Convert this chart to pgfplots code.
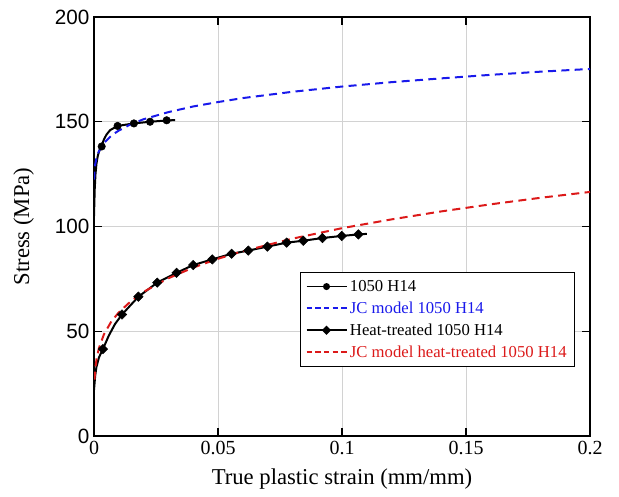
\documentclass[border=0pt]{standalone}
\usepackage{pgfplots}
\pgfplotsset{compat=1.18}
\usepackage{fontspec}
\setmainfont{Liberation Serif}
\newfontfamily\arialfont{Liberation Sans}
\definecolor{jcblue}{RGB}{25,25,235}
\definecolor{jcred}{RGB}{220,25,25}
\definecolor{gridgray}{RGB}{210,210,210}
\begin{document}
\begin{tikzpicture}
\begin{axis}[
  name=ax,
  scale only axis,
  width=372pt, height=314.25pt,
  xmin=0, xmax=0.2, ymin=0, ymax=200,
  xtick={0,0.05,0.1,0.15,0.2},
  xticklabels={0,0.05,0.1,0.15,0.2},
  ytick={0,50,100,150,200},
  /pgf/number format/assume math mode=true,
  yticklabel style={font=\arialfont\fontsize{15.5}{18}\selectfont},
  xticklabel style={font=\fontsize{15}{18}\selectfont},
  major tick length=6pt,
  tick style={black, line width=0.8pt},
  axis line style={black, line width=1.1pt},
  grid=major,
  major grid style={gridgray, line width=0.6pt},
  xlabel={True plastic strain (mm/mm)},
  ylabel={Stress (MPa)},
  label style={font=\fontsize{17}{20}\selectfont},
  xlabel style={at={(axis description cs:0.5,-0.103)}, anchor=center},
  ylabel style={at={(axis description cs:-0.142,0.5)}, anchor=center},
  legend cell align=left,
  legend style={at={(axis description cs:0.97,0.165)}, anchor=south east,
    draw=black, line width=0.8pt, fill=white,
    font=\fontsize{12.5}{14.5}\selectfont, row sep=2.3pt,
    inner xsep=4pt, inner ysep=3.5pt},
  legend image code/.code={\draw[mark repeat=2,mark phase=2,#1] plot coordinates {(0pt,0pt) (15pt,0pt) (30pt,0pt)};},
]
% 1050 H14 experimental line
\addplot[black, line width=1.5pt, forget plot] coordinates {
 (0,105) (0.0003,118) (0.0006,125) (0.001,130) (0.0015,133.5) (0.002,135.7) (0.003,138.4)
 (0.004,141.5) (0.005,143.8) (0.0065,146.0) (0.0095,148.0) (0.0161,149.2) (0.0226,150.0)
 (0.0293,150.6) (0.0327,150.8)};
\addplot[black, only marks, mark=*, mark size=2.8pt, forget plot] coordinates {
 (0.0031,138.2) (0.0095,148.0) (0.0161,149.2) (0.0226,150.0) (0.0293,150.7)};
% JC model 1050 H14
\addplot[jcblue, line width=1.5pt, dash pattern=on 6pt off 4pt, forget plot] coordinates {
 (0.00005,122.4) (0.0002,126.4) (0.0005,129.7) (0.001,132.6) (0.002,136.0) (0.004,139.8)
 (0.007,143.4) (0.01,145.8) (0.015,148.9) (0.02,151.2) (0.03,154.6) (0.04,157.3)
 (0.05,159.4) (0.06,161.3) (0.08,164.3) (0.1,166.8) (0.12,168.9) (0.14,170.7)
 (0.16,172.4) (0.18,173.9) (0.2,175.2)};
% Heat-treated experimental line
\addplot[black, line width=1.5pt, forget plot] coordinates {
 (0,22) (0.0005,29) (0.001,33) (0.002,37.5) (0.0036,41.5) (0.006,48) (0.0085,53.5)
 (0.0113,58.0) (0.0179,66.5) (0.0255,73.2) (0.0333,77.9) (0.0400,81.6) (0.0477,84.3)
 (0.0555,87.0) (0.0622,88.5) (0.0699,90.4) (0.0777,92.3) (0.0844,93.2) (0.0921,94.5)
 (0.0999,95.5) (0.1066,96.2) (0.110,96.5)};
\addplot[black, only marks, mark=square*, mark size=2.5pt, mark options={rotate=45}, forget plot] coordinates {
 (0.0036,41.5) (0.0113,58.0) (0.0179,66.5) (0.0255,73.2) (0.0333,77.9) (0.0400,81.6)
 (0.0477,84.3) (0.0555,87.0) (0.0622,88.5) (0.0699,90.4) (0.0777,92.3) (0.0844,93.2)
 (0.0921,94.5) (0.0999,95.5) (0.1066,96.2)};
% JC model heat-treated
\addplot[jcred, line width=1.5pt, dash pattern=on 6pt off 4pt, forget plot] coordinates {
 (0.0002,26.9) (0.0005,31.9) (0.001,36.5) (0.002,42.0) (0.004,48.5) (0.007,54.7)
 (0.01,59.0) (0.015,64.5) (0.02,68.8) (0.03,75.3) (0.04,80.4) (0.05,84.6) (0.06,88.2)
 (0.08,94.2) (0.1,99.2) (0.12,103.4) (0.14,107.2) (0.16,110.6) (0.18,113.7) (0.2,116.5)};
\addlegendimage{black, line width=1.2pt, mark=*, mark size=2pt}
\addlegendentry{1050 H14}
\addlegendimage{jcblue, line width=1.2pt, dash pattern=on 4pt off 2.5pt}
\addlegendentry{\textcolor{jcblue}{JC model 1050 H14}}
\addlegendimage{black, line width=1.2pt, mark=square*, mark size=1.9pt, mark options={rotate=45}}
\addlegendentry{Heat-treated 1050 H14}
\addlegendimage{jcred, line width=1.2pt, dash pattern=on 4pt off 2.5pt}
\addlegendentry{\textcolor{jcred}{JC model heat-treated 1050 H14}}
\end{axis}
\path (ax.south west) ++(-70.5pt,-45pt) coordinate (bbA);
\path (ax.north east) ++(21.75pt,12.75pt) coordinate (bbB);
\path (bbA) rectangle (bbB);
\end{tikzpicture}
\end{document}
